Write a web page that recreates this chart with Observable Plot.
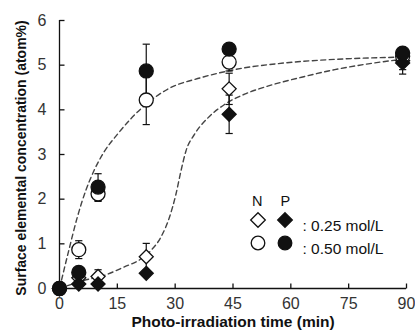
<!DOCTYPE html>
<html><head><meta charset="utf-8">
<script src="https://cdn.jsdelivr.net/npm/d3@7"></script>
<script src="https://cdn.jsdelivr.net/npm/@observablehq/plot@0.6"></script>
<style>
body{margin:0;background:#fff;}
#wrap{position:relative;width:415px;height:336px;}
#chart svg{font-family:"Liberation Sans",Arial,sans-serif;display:block;}
#ytitle{position:absolute;left:21px;top:157.5px;transform:translate(-50%,-50%) rotate(-90deg);
  white-space:nowrap;font:bold 14px "Liberation Sans",Arial,sans-serif;color:#111;}
</style>
</head><body><div id="wrap"><div id="chart"></div><div id="ytitle"></div></div>
<script>
// ---- data ----
const times = [0, 5, 10, 22.5, 44, 89];
const n025 = [0, 0.24, 0.27, 0.71, 4.47, 5.10];   // N, 0.25 mol/L (open diamond)
const p025 = [0, 0.10, 0.10, 0.34, 3.90, 5.05];   // P, 0.25 mol/L (filled diamond)
const n050 = [0, 0.87, 2.12, 4.22, 5.07, 5.20];   // N, 0.50 mol/L (open circle)
const p050 = [0, 0.36, 2.27, 4.87, 5.36, 5.27];   // P, 0.50 mol/L (filled circle)
const errN025 = [0, 0, 0.15, 0.30, 0.35, 0.20];
const errP025 = [0, 0, 0, 0, 0.43, 0.25];
const errN050 = [0, 0.20, 0.17, 0.55, 0.20, 0];
const errP050 = [0, 0, 0.30, 0.60, 0, 0];

// dashed guide curves
const curve1T = [0, 2.4, 4.6, 6.8, 8.9, 11.5, 15, 18.5, 22.8, 28, 36.7, 45.4, 58.4, 71.4, 88.8];
const curve1Y = [0, 0.85, 1.59, 2.19, 2.63, 3.05, 3.45, 3.8, 4.15, 4.46, 4.72, 4.9, 5.05, 5.13, 5.18];
const curve2T = [0, 6.3, 11.5, 16.7, 21.1, 23.7, 26.3, 28.5, 30.2, 31.5, 32.8, 35, 38.5, 42.8, 48, 54, 62.8, 71.4, 80.1, 88.8];
const curve2Y = [0, 0.18, 0.29, 0.48, 0.66, 0.85, 1.15, 1.59, 2.11, 2.63, 3.08, 3.45, 3.82, 4.12, 4.35, 4.53, 4.73, 4.9, 5.03, 5.13];

const xTicks = [0, 15, 30, 45, 60, 75, 90];
const yTicks = [0, 1, 2, 3, 4, 5, 6];
const xTitle = "Photo-irradiation time (min)";
const yTitle = "Surface elemental concentration (atom%)";
const legendHeaders = ["N", "P"];
const legendLabels = [": 0.25 mol/L", ": 0.50 mol/L"];

// ---- build tables ----
const series = [
  {key: "N025", vals: n025, errs: errN025, symbol: "diamond2", filled: false},
  {key: "P025", vals: p025, errs: errP025, symbol: "diamond2", filled: true},
  {key: "N050", vals: n050, errs: errN050, symbol: "circle", filled: false},
  {key: "P050", vals: p050, errs: errP050, symbol: "circle", filled: true}
];
const rows = series.flatMap(s => times.map((t, i) => ({key: s.key, t, v: s.vals[i], e: s.errs[i], symbol: s.symbol, filled: s.filled})));
const errRows = rows.filter(d => d.e > 0).map(d => ({...d, lo: d.v - d.e, hi: d.v + d.e}));
const c1 = curve1T.map((t, i) => ({t, y: curve1Y[i]}));
const c2 = curve2T.map((t, i) => ({t, y: curve2Y[i]}));

const cap = {draw(ctx, size) { const r = Math.sqrt(size / Math.PI); ctx.moveTo(-r, 0); ctx.lineTo(r, 0); }};
const tickUp = {draw(ctx, size) { const r = Math.sqrt(size / Math.PI); ctx.moveTo(0, 0); ctx.lineTo(0, -r); }};
const tickRight = {draw(ctx, size) { const r = Math.sqrt(size / Math.PI); ctx.moveTo(0, 0); ctx.lineTo(r, 0); }};

const ink = "#111";
const markR = {circle: 7, diamond2: 6.3};
const legR = {circle: 6.8, diamond2: 6.6};

const markerMarks = [];
for (const filled of [false, true]) {
  for (const sym of ["diamond2", "circle"]) {
    markerMarks.push(Plot.dot(rows.filter(d => d.filled === filled && d.symbol === sym), {
      x: "t", y: "v", symbol: sym, r: markR[sym],
      fill: filled ? ink : "white", stroke: ink, strokeWidth: 1.3
    }));
  }
}

// legend (placed relative to the frame's top-left corner)
const legX = [198.5, 225.5], legHeadX = [192.5, 221], legTextX = 243, legHeadY = 175.5, legRowY = [199.5, 222.5];
const legendSeries = [[series[0], series[1]], [series[2], series[3]]];
const legendMarks = [];
legendHeaders.forEach((h, j) => legendMarks.push(Plot.text([h], {
  text: d => d, frameAnchor: "top-left", dx: legHeadX[j], dy: legHeadY, textAnchor: "start", fontSize: 14.5, fill: ink
})));
legendSeries.forEach((pair, i) => {
  pair.forEach((s, j) => legendMarks.push(Plot.dot([s], {
    frameAnchor: "top-left", dx: legX[j], dy: legRowY[i], symbol: s.symbol, r: legR[s.symbol],
    fill: s.filled ? ink : "white", stroke: ink, strokeWidth: 1.3
  })));
  legendMarks.push(Plot.text([legendLabels[i]], {
    text: d => d, frameAnchor: "top-left", dx: legTextX, dy: legRowY[i], textAnchor: "start", fontSize: 15.5, fill: ink
  }));
});

const chart = Plot.plot({
  width: 415, height: 336,
  marginLeft: 59, marginRight: 9, marginTop: 20, marginBottom: 48,
  style: {background: "white", color: ink},
  x: {domain: [0, 90]},
  y: {domain: [0, 6]},
  marks: [
    Plot.axisX({ticks: xTicks, tickFormat: d => String(d), tickSize: 0, tickPadding: 9, fontSize: 16, fill: "#333", label: null}),
    Plot.axisY({ticks: yTicks, tickFormat: d => String(d), tickSize: 0, tickPadding: 13, fontSize: 16, fill: "#333", label: null}),
    Plot.ruleY([0], {stroke: ink, strokeWidth: 1.3}),
    Plot.ruleX([0], {stroke: ink, strokeWidth: 1.3}),
    Plot.dot(xTicks.slice(1), {x: d => d, y: 0, symbol: tickUp, r: 5, stroke: ink, strokeWidth: 1.3}),
    Plot.dot(yTicks.slice(1), {x: 0, y: d => d, symbol: tickRight, r: 5, stroke: ink, strokeWidth: 1.3}),
    Plot.line(c1, {x: "t", y: "y", curve: "monotone-x", stroke: "#444", strokeWidth: 1.4, strokeDasharray: "5,3.5"}),
    Plot.line(c2, {x: "t", y: "y", curve: "monotone-x", stroke: "#444", strokeWidth: 1.4, strokeDasharray: "5,3.5"}),
    Plot.link(errRows, {x1: "t", x2: "t", y1: "lo", y2: "hi", stroke: ink, strokeWidth: 1.2}),
    Plot.dot(errRows, {x: "t", y: "lo", symbol: cap, r: 3.6, stroke: ink, strokeWidth: 1.2}),
    Plot.dot(errRows, {x: "t", y: "hi", symbol: cap, r: 3.6, stroke: ink, strokeWidth: 1.2}),
    ...markerMarks,
    ...legendMarks,
    Plot.text([xTitle], {text: d => d, frameAnchor: "bottom", dy: 38, fontSize: 15.5, fontWeight: "bold", fill: ink})
  ]
});
document.getElementById("chart").append(chart);
document.getElementById("ytitle").textContent = yTitle;
</script>
</body></html>
